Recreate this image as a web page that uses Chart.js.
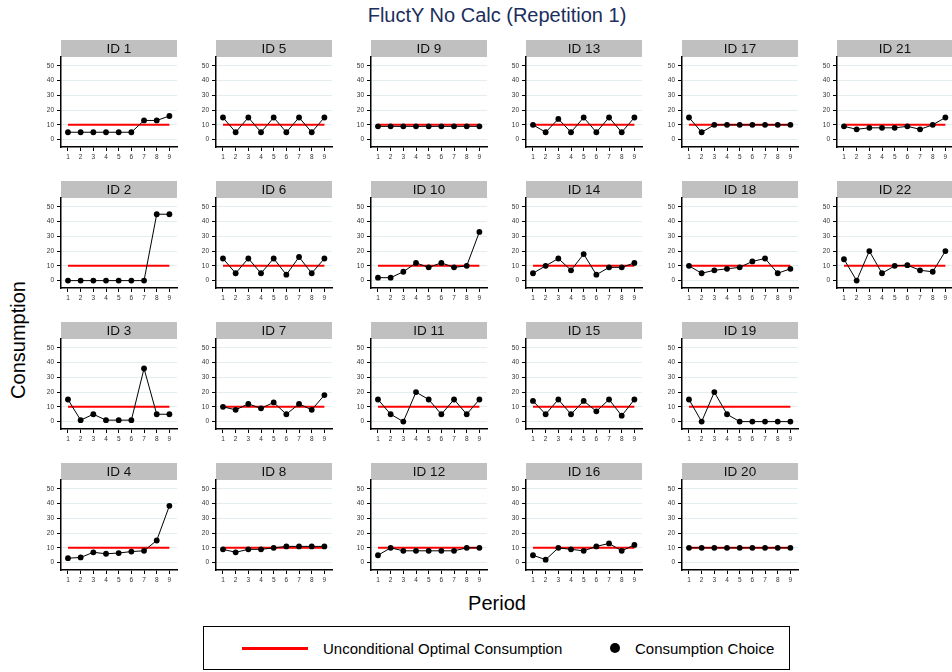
<!DOCTYPE html>
<html>
<head>
<meta charset="utf-8">
<title>FluctY No Calc (Repetition 1)</title>
<script src="https://cdn.jsdelivr.net/npm/chart.js@4/dist/chart.umd.min.js"></script>
<style>
  html, body { margin: 0; padding: 0; background: #fff; }
  body { position: relative; width: 952px; height: 672px; overflow: hidden;
         font-family: "Liberation Sans", Arial, Helvetica, sans-serif; }
  canvas.panel { position: absolute; }
  #title { position: absolute; left: 0; top: 4px; width: 994px; text-align: center;
           font-size: 20px; line-height: 22px; color: #1c2e5c; }
  #ytitle { position: absolute; left: 18px; top: 340px; transform: translate(-50%, -50%) rotate(-90deg);
            font-size: 20px; line-height: 22px; color: #000; white-space: nowrap; }
  #xtitle { position: absolute; left: 0; top: 592px; width: 994px; text-align: center;
            font-size: 20px; line-height: 22px; color: #000; }
  #legend { position: absolute; left: 203px; top: 626px; width: 587px; height: 44px;
            border: 1px solid #000; box-sizing: border-box; }
  #legend .swatch-line { position: absolute; left: 38px; top: 20px; width: 66px; height: 3px; background: #ff0000; }
  #legend .swatch-dot { position: absolute; left: 406px; top: 16px; width: 10px; height: 10px; border-radius: 50%; background: #000; }
  #legend .lbl { position: absolute; top: 13px; font-size: 15px; line-height: 18px; color: #000; white-space: nowrap; }
</style>
</head>
<body>
<div id="title">FluctY No Calc (Repetition 1)</div>
<div id="ytitle">Consumption</div>
<div id="xtitle">Period</div>
<div id="legend">
  <div class="swatch-line"></div>
  <span class="lbl" style="left:119px">Unconditional Optimal Consumption</span>
  <div class="swatch-dot"></div>
  <span class="lbl" style="left:431px">Consumption Choice</span>
</div>
<script>
// Periods and axis ticks
const periods = [1, 2, 3, 4, 5, 6, 7, 8, 9];
const yTickValues = [0, 10, 20, 30, 40, 50];

// Unconditional optimal consumption in each period
const optimalConsumption = [10, 10, 10, 10, 10, 10, 10, 10, 10];

// Consumption choices per participant
const id1  = [5, 5, 5, 5, 5, 5, 13, 13, 16];
const id2  = [0, 0, 0, 0, 0, 0, 0, 45, 45];
const id3  = [15, 1, 5, 1, 1, 1, 36, 5, 5];
const id4  = [3, 3.5, 7, 6, 6.5, 7.5, 8, 15, 38.5];
const id5  = [15, 5, 15, 5, 15, 5, 15, 5, 15];
const id6  = [15, 5, 15, 5, 15, 4, 16, 5, 15];
const id7  = [10, 8, 12, 9, 13, 5, 12, 8, 18];
const id8  = [9, 7, 9, 9, 10, 11, 11, 11, 11];
const id9  = [9, 9, 9, 9, 9, 9, 9, 9, 9];
const id10 = [2, 2, 6, 12, 9, 12, 9, 10, 33];
const id11 = [15, 5, 0, 20, 15, 5, 15, 5, 15];
const id12 = [5, 10, 8, 8, 8, 8, 8, 10, 10];
const id13 = [10, 5, 14, 5, 15, 5, 15, 5, 15];
const id14 = [5, 10, 15, 7, 18, 4, 9, 9, 12];
const id15 = [14, 5, 15, 5, 14, 7, 15, 4, 15];
const id16 = [5, 2, 10, 9, 8, 11, 13, 8, 12];
const id17 = [15, 5, 10, 10, 10, 10, 10, 10, 10];
const id18 = [10, 5, 7, 8, 9, 13, 15, 5, 8];
const id19 = [15, 0, 20, 5, 0, 0, 0, 0, 0];
const id20 = [10, 10, 10, 10, 10, 10, 10, 10, 10];
const id21 = [9, 7, 8, 8, 8, 9, 7, 10, 15];
const id22 = [14.5, 0, 20, 5, 10, 10.5, 7, 6, 20];

const panelLabels = ['ID 1','ID 2','ID 3','ID 4','ID 5','ID 6','ID 7','ID 8','ID 9','ID 10','ID 11',
                     'ID 12','ID 13','ID 14','ID 15','ID 16','ID 17','ID 18','ID 19','ID 20','ID 21','ID 22'];
const panelSeries = [id1, id2, id3, id4, id5, id6, id7, id8, id9, id10, id11,
                     id12, id13, id14, id15, id16, id17, id18, id19, id20, id21, id22];

const FONT = '"Liberation Sans", Arial, Helvetica, sans-serif';

// Gray strip with the panel name above the plot area
const stripPlugin = {
  id: 'strip',
  beforeDraw(chart, args, opts) {
    const { ctx, chartArea: a } = chart;
    ctx.save();
    ctx.fillStyle = '#c0c0c0';
    ctx.fillRect(a.left, 0, a.right - a.left, a.top);
    ctx.fillStyle = '#111';
    ctx.font = '13.5px ' + FONT;
    ctx.textAlign = 'center';
    ctx.textBaseline = 'middle';
    ctx.fillText(opts.text, (a.left + a.right) / 2, a.top / 2 + 1);
    ctx.restore();
  }
};

const ROWS = 4;
const COL_STEP = 155.2, ROW_STEP = 141;
const AXIS_X0 = 60.7, STRIP_TOP0 = 40;
const Y_AXIS_W = 30, X_AXIS_H = 16, STRIP_H = 17;
const CANVAS_W = 150, CANVAS_H = 123;

panelSeries.forEach((series, i) => {
  const col = Math.floor(i / ROWS), row = i % ROWS;
  const cv = document.createElement('canvas');
  cv.className = 'panel';
  cv.width = CANVAS_W; cv.height = CANVAS_H;
  cv.style.left = Math.round(AXIS_X0 + col * COL_STEP - Y_AXIS_W) + 'px';
  cv.style.top = (STRIP_TOP0 + row * ROW_STEP) + 'px';
  document.body.appendChild(cv);

  new Chart(cv, {
    type: 'line',
    data: {
      datasets: [
        {
          label: 'Consumption Choice',
          data: periods.map((p, k) => ({ x: p, y: series[k] })),
          borderColor: '#000',
          borderWidth: 1,
          pointRadius: 2.9,
          pointBackgroundColor: '#000',
          pointBorderWidth: 0,
          tension: 0,
          order: 0
        },
        {
          label: 'Unconditional Optimal Consumption',
          data: periods.map((p, k) => ({ x: p, y: optimalConsumption[k] })),
          borderColor: '#ff0000',
          borderWidth: 2,
          pointRadius: 0,
          tension: 0,
          order: 1
        }
      ]
    },
    options: {
      responsive: false,
      animation: false,
      events: [],
      layout: { padding: { top: STRIP_H, right: 2, left: 0, bottom: 0 } },
      plugins: {
        legend: { display: false },
        tooltip: { enabled: false },
        strip: { text: panelLabels[i] }
      },
      scales: {
        x: {
          type: 'linear',
          min: 0.45, max: 9.6,
          afterBuildTicks: s => { s.ticks = periods.map(v => ({ value: v })); },
          afterFit: s => { s.height = X_AXIS_H; },
          grid: { drawOnChartArea: false, drawTicks: true, tickLength: 4, tickColor: '#000', tickWidth: 1 },
          border: { color: '#000', width: 1.5 },
          ticks: { font: { size: 6.5, family: FONT }, color: '#333', padding: 2, maxRotation: 0, autoSkip: false }
        },
        y: {
          min: -5, max: 56,
          afterBuildTicks: s => { s.ticks = yTickValues.map(v => ({ value: v })); },
          afterFit: s => { s.width = Y_AXIS_W; },
          grid: { color: '#e4edf0', lineWidth: 1, drawTicks: true, tickLength: 4, tickColor: '#000', tickWidth: 1 },
          border: { color: '#000', width: 1.5 },
          ticks: { font: { size: 6.5, family: FONT }, color: '#333', padding: 3 }
        }
      }
    },
    plugins: [stripPlugin]
  });
});
</script>
</body>
</html>
